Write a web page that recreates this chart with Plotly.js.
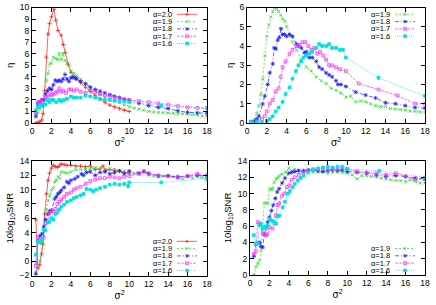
<!DOCTYPE html>
<html>
<head>
<meta charset="utf-8">
<script src="https://cdn.plot.ly/plotly-3.0.1.min.js"></script>
<style>html,body{margin:0;padding:0;background:#fff;}#chart{width:436px;height:305px;}</style>
</head>
<body>
<div id="chart"></div>
<script>
// ---------- DATA ----------
const legendLabels5 = ['α=2.0','α=1.9','α=1.8','α=1.7','α=1.6'];
const legendLabels4 = ['α=1.9','α=1.8','α=1.7','α=1.6'];
const xTicks = [0,2,4,6,8,10,12,14,16,18];

// Top-left: eta vs sigma^2
const tl_a20_x = [0.4,0.6,0.8,1.0,1.13,1.3,1.47,1.65,1.8,2.0,2.25,2.45,2.67,3.0,3.2,3.4,3.7,4.0,4.5,5.0,5.5,6.0,6.5,7.0,7.5,8.0,8.5,9.0,9.5,10.0];
const tl_a20_y = [0.0,0.05,0.1,0.25,0.8,2.8,5.7,7.7,8.6,9.2,9.85,8.9,8.0,7.6,6.8,6.1,5.1,4.4,3.9,3.5,3.1,2.75,2.4,2.05,1.8,1.55,1.4,1.25,1.1,1.0];
const tl_a19_x = [0.4,0.6,0.8,1.0,1.13,1.3,1.47,1.65,1.82,2.0,2.2,2.4,2.6,2.8,3.0,3.2,3.4,3.6,3.8,4.0,4.3,4.6,5.0,5.5,6.0,6.5,7.0,7.5,8.0,8.5,9.0,9.5,10.0,10.5,11.0,11.5,12.0,12.5,13.0,13.5,14.0,14.5,15.0,15.5,16.0,16.5,17.0,17.5,18.0];
const tl_a19_y = [0.5,0.9,1.2,1.4,1.6,2.5,3.7,4.3,5.1,5.2,5.7,5.6,5.5,6.0,5.5,6.0,5.4,5.2,5.0,4.5,4.3,4.1,3.8,3.4,3.0,2.8,2.5,2.2,2.0,1.85,1.75,1.55,1.4,1.3,1.2,1.1,1.0,0.97,0.92,0.9,0.87,0.85,0.82,0.8,0.78,0.72,0.68,0.62,0.58];
const tl_a18_x = [0.4,0.6,0.8,1.0,1.2,1.4,1.6,1.8,2.0,2.2,2.4,2.6,2.8,3.0,3.2,3.4,3.6,3.8,4.0,4.2,4.4,4.6,5.0,5.5,6.0,6.5,7.0,7.5,8.0,8.5,9.0,9.5,10.0,11.0,12.0,13.0,14.0,15.0,16.0,17.0,18.0];
const tl_a18_y = [0.6,1.7,1.8,2.0,2.0,2.5,2.8,3.0,2.9,3.3,3.7,3.6,3.7,3.6,3.8,4.2,3.8,3.6,3.9,4.0,3.9,3.8,3.6,3.4,3.1,2.9,2.75,2.6,2.45,2.3,2.2,2.05,1.95,1.7,1.5,1.35,1.25,1.05,0.93,0.88,0.85];
const tl_a17_x = [0.4,0.6,0.8,1.0,1.2,1.4,1.6,1.8,2.0,2.2,2.4,2.6,2.8,3.0,3.2,3.5,3.8,4.0,4.3,4.6,5.0,5.5,6.0,6.5,7.0,7.5,8.0,8.5,9.0,9.5,10.0,11.0,12.0,13.0,14.0,15.0,16.0,17.0,18.0];
const tl_a17_y = [0.8,1.8,1.8,1.8,2.0,2.3,2.2,2.5,2.4,2.5,2.6,2.7,3.0,2.7,2.8,2.6,2.9,2.9,2.8,2.9,2.7,2.6,2.8,2.7,2.5,2.4,2.3,2.2,2.1,2.05,2.0,1.9,1.8,1.7,1.6,1.45,1.35,1.3,1.3];
const tl_a16_x = [0.4,0.6,0.8,1.0,1.2,1.4,1.6,1.8,2.0,2.2,2.5,2.8,3.0,3.3,3.6,4.0,4.3,4.6,5.0,5.5,6.0,6.5,7.0,7.5,8.0,8.5,9.0,9.5,10.0,13.3,18.0];
const tl_a16_y = [1.1,1.4,1.5,1.5,1.6,1.6,2.0,1.8,2.0,2.0,1.8,2.0,1.9,2.0,2.1,2.3,2.2,2.2,2.2,2.4,2.3,2.2,2.1,2.0,2.0,1.95,1.9,1.85,1.8,1.5,1.25];

// Top-right: eta vs sigma^2
const tr_a19_x = [0.4,0.6,0.8,1.0,1.2,1.4,1.6,1.8,2.0,2.2,2.4,2.6,2.8,3.0,3.2,3.4,3.6,3.8,4.0,4.3,4.6,5.0,5.5,6.0,6.5,7.0,7.5,8.0,8.5,9.0,9.5,10.0,10.5,11.0,11.5,12.0,12.5,13.0,13.5,14.0,14.5,15.0,15.5,16.0,16.5,17.0,17.5,18.0];
const tr_a19_y = [0.1,0.1,0.2,0.5,0.9,1.5,2.3,3.5,4.5,5.1,5.5,5.8,6.0,5.9,5.8,5.6,5.4,5.3,5.0,4.6,4.2,3.8,3.3,2.9,2.7,2.4,2.2,2.05,1.8,1.7,1.55,1.35,1.4,1.1,1.15,1.1,1.0,0.9,0.85,0.85,0.75,0.72,0.7,0.68,0.62,0.6,0.58,0.55];
const tr_a18_x = [0.4,0.8,1.0,1.2,1.58,1.8,2.09,2.3,2.6,2.75,2.93,3.1,3.27,3.44,3.6,3.8,4.0,4.3,4.6,5.0,5.2,5.5,5.8,6.0,6.3,6.6,7.0,7.3,7.6,8.0,8.3,8.6,9.0,9.2,9.5,10.0,11.0,12.0,13.0,14.0,15.0,16.0,17.0,18.0];
const tr_a18_y = [0.05,0.1,0.2,0.35,0.99,1.4,2.0,2.6,3.07,3.9,3.85,4.3,4.45,4.9,4.6,4.6,4.5,4.6,4.5,4.1,4.0,3.9,3.65,3.7,3.4,3.4,3.2,2.9,2.8,2.6,2.5,2.4,2.2,2.0,2.0,1.9,1.6,1.45,1.3,1.05,1.0,0.9,0.8,0.77];
const tr_a17_x = [0.4,1.0,1.5,1.8,2.0,2.3,2.6,2.9,3.2,3.4,3.6,3.9,4.3,4.6,5.0,5.3,5.6,5.9,6.2,6.5,6.8,7.1,7.4,7.7,8.0,8.3,8.6,9.0,9.4,10.0,11.3,13.3,15.2,17.0,18.0];
const tr_a17_y = [0.05,0.1,0.2,0.35,0.6,1.0,1.2,1.65,1.8,2.4,2.9,3.2,3.6,3.8,4.0,4.05,4.2,4.2,4.0,3.8,3.9,3.6,3.7,3.5,3.3,3.0,3.0,2.9,2.8,2.7,2.05,1.74,1.43,1.0,1.0];
const tr_a16_x = [0.4,1.0,1.5,2.0,2.3,2.6,2.9,3.2,3.6,3.9,4.3,4.6,4.95,5.2,5.46,5.7,5.96,6.3,6.6,7.0,7.3,7.6,8.0,8.3,8.6,9.0,9.4,9.7,10.0,13.3,18.0];
const tr_a16_y = [0.05,0.05,0.05,0.1,0.2,0.35,0.6,0.8,1.1,1.5,1.85,2.3,2.7,3.0,3.2,3.4,3.5,3.6,3.7,3.9,4.1,4.0,4.0,4.1,3.9,3.9,3.8,3.8,3.4,2.35,1.4];

// Bottom-left: 10log10 SNR vs sigma^2
const bl_a20_x = [0.4,0.6,0.8,1.0,1.13,1.3,1.47,1.65,1.8,2.0,2.2,2.4,2.6,2.8,3.0,3.3,3.6,4.0,4.5,5.0,5.5,6.0,6.5,7.0,7.3,7.6,8.0,8.5,9.0,9.5,10.0];
const bl_a20_y = [5.8,-1.0,-0.5,1.0,2.4,6.6,9.4,11.3,12.3,13.0,13.4,13.2,13.1,13.3,13.6,13.5,13.4,13.4,13.3,13.3,13.2,13.3,12.8,12.9,13.3,12.7,12.8,12.7,12.6,12.4,12.3];
const bl_a19_x = [0.4,0.6,0.8,1.0,1.13,1.3,1.47,1.65,1.82,2.0,2.2,2.33,2.5,2.67,2.85,3.0,3.3,3.6,4.0,4.5,5.0,5.5,6.0,6.5,7.0,7.5,8.0,8.5,9.0,9.5,10.0,10.5,11.0,11.5,12.0,12.5,13.0,13.5,14.0,14.5,15.0,15.5,16.0,16.5,17.0,17.5,18.0];
const bl_a19_y = [-1.6,-1.0,0.0,2.5,3.8,5.7,7.2,8.5,9.2,9.9,10.2,11.1,11.3,11.8,11.6,12.5,12.4,12.3,12.5,12.8,12.8,12.8,12.9,13.1,13.0,12.8,12.9,12.8,12.7,12.6,12.4,12.2,12.3,12.5,12.0,11.9,11.8,11.9,12.0,11.8,11.6,11.5,11.8,11.6,11.8,11.7,11.2];
const bl_a18_x = [0.4,0.6,0.8,1.0,1.2,1.4,1.65,1.8,2.0,2.33,2.5,2.67,2.85,3.0,3.3,3.6,3.8,4.0,4.4,4.7,5.1,5.3,5.6,6.0,6.5,7.0,7.5,8.0,8.5,9.0,9.5,10.0,11.0,11.5,12.0,13.0,14.0,15.0,16.0,17.0,18.0];
const bl_a18_y = [-1.8,2.8,3.5,3.8,4.8,5.8,6.6,7.0,7.1,8.7,9.0,9.4,9.6,9.9,10.3,11.1,10.9,11.3,11.5,11.8,12.2,12.0,12.4,12.5,12.0,12.4,12.5,12.2,12.4,12.6,12.2,12.6,12.3,12.5,12.3,11.9,11.9,11.8,11.9,12.0,12.0];
const bl_a17_x = [0.4,0.6,0.8,1.0,1.2,1.4,1.6,1.8,2.0,2.2,2.4,2.6,2.8,3.0,3.3,3.6,4.0,4.3,4.6,5.0,5.5,6.0,6.5,7.0,7.5,8.0,8.5,9.0,9.5,10.0,11.0,11.5,12.0,13.0,14.0,15.0,16.0,17.0,18.0];
const bl_a17_y = [-0.6,3.3,2.8,3.0,3.3,5.3,5.5,6.7,7.0,7.0,7.3,8.0,8.3,8.6,9.0,9.4,9.6,10.0,10.2,10.4,10.8,11.2,11.4,11.6,11.6,11.8,11.7,11.6,11.8,11.9,12.2,12.6,12.2,12.0,11.9,11.7,11.9,12.2,11.9];
const bl_a16_x = [0.4,0.6,0.8,1.0,1.2,1.4,1.6,1.8,2.0,2.2,2.4,2.6,2.8,3.0,3.3,3.6,4.0,4.3,4.6,5.0,5.3,5.6,6.0,6.3,6.6,7.0,7.5,8.0,8.5,9.0,9.5,9.9,10.0,13.3,18.0];
const bl_a16_y = [0.9,2.7,2.6,3.0,4.4,4.3,5.4,5.5,6.0,5.8,6.6,6.8,7.2,7.6,7.9,8.3,8.5,8.8,9.0,9.2,9.4,10.1,10.0,9.8,10.0,10.2,10.4,10.7,10.8,10.7,10.8,10.5,11.0,11.0,11.6];

// Bottom-right: 10log10 SNR vs sigma^2
const br_a19_x = [0.4,0.6,0.8,1.0,1.13,1.3,1.47,1.65,1.82,2.0,2.2,2.33,2.5,2.67,2.85,3.0,3.3,3.7,4.0,4.3,4.6,5.0,5.5,6.0,6.5,7.0,7.5,8.0,8.5,9.0,9.5,10.0,10.5,11.0,11.5,12.0,12.5,13.0,13.5,14.0,14.5,15.0,15.5,16.0,16.5,17.0,17.5,18.0];
const br_a19_y = [0.0,1.0,1.4,1.8,3.0,5.5,8.8,8.9,8.8,10.6,10.5,10.6,11.4,11.8,11.9,12.2,12.4,12.65,13.1,12.8,13.0,12.9,12.7,12.8,12.6,12.6,12.7,12.5,12.6,12.7,12.6,12.5,12.3,11.8,12.2,12.2,12.1,12.0,11.9,11.8,11.7,11.6,11.6,11.5,11.7,11.5,11.3,11.3];
const br_a18_x = [0.4,0.6,0.8,1.0,1.13,1.3,1.47,1.65,1.82,2.0,2.2,2.4,2.6,2.8,3.0,3.3,3.6,4.0,4.3,4.6,5.0,5.5,6.0,6.5,7.0,7.5,8.0,8.5,9.0,9.5,10.0,11.0,12.0,13.0,14.0,15.0,16.0,17.0,18.0];
const br_a18_y = [2.3,3.8,3.9,4.0,3.5,3.4,5.0,5.9,6.5,7.1,7.9,8.6,9.4,10.2,10.6,11.3,11.9,12.5,12.6,12.7,12.8,12.8,12.9,12.9,12.8,12.7,12.8,12.9,12.8,12.9,12.7,12.6,12.5,12.3,12.1,12.2,12.1,11.9,11.8];
const br_a17_x = [0.4,0.6,0.8,1.0,1.3,1.5,1.65,1.8,2.0,2.33,2.5,2.67,2.85,3.0,3.3,3.53,3.8,4.04,4.3,4.6,5.0,5.5,6.0,6.5,7.0,7.5,8.0,8.5,9.0,9.5,10.0,11.0,12.0,13.0,14.0,15.0,16.0,17.0,18.0];
const br_a17_y = [2.6,2.9,6.5,6.3,5.1,5.0,4.9,5.0,5.9,5.7,6.4,7.3,8.6,8.8,9.7,10.0,10.8,11.0,11.7,12.0,12.3,12.6,12.8,13.0,13.0,13.1,12.9,13.0,12.9,13.1,13.0,12.7,12.6,12.5,12.3,12.5,12.1,11.7,11.8];
const br_a16_x = [0.4,0.6,0.8,1.0,1.13,1.3,1.47,1.65,1.8,2.0,2.16,2.4,2.67,2.85,3.0,3.36,3.6,3.88,4.1,4.39,4.6,4.9,5.2,5.5,6.0,6.5,7.0,7.5,8.0,8.5,9.0,9.5,10.0,13.3,18.0];
const br_a16_y = [4.9,3.8,3.9,6.1,6.3,5.8,5.9,5.7,6.1,6.9,6.7,6.6,6.3,7.2,7.3,8.3,9.0,10.0,10.3,10.8,11.2,11.6,11.9,12.2,12.6,12.9,13.1,13.2,13.3,13.2,13.3,13.3,13.0,12.8,12.0];

// ---------- STYLE ----------
const W = 436, H = 305;
const FONT = '"Liberation Sans", Arial, Helvetica, sans-serif';
const ST = {
  '2.0': {color:'#ff1a1a', symbol:'cross-thin-open', dash:'solid', size:3, shape:'plus'},
  '1.9': {color:'#1ee01e', symbol:'x-thin-open', dash:'2px,2px', size:3, shape:'x'},
  '1.8': {color:'#2020ff', symbol:'asterisk-open', dash:'4px,2px,1px,2px', size:3.5, shape:'star'},
  '1.7': {color:'#ff33ff', symbol:'square-open', dash:'3px,1px', size:2.8, shape:'osq'},
  '1.6': {color:'#00e0e0', symbol:'square', dash:'1px,1px', size:2.8, shape:'fsq'}
};
function px(x){ return x / W; }
function py(y){ return 1 - y / H; }

const panels = [
  {xa:'x',  ya:'y',  box:{l:32, r:207, t:7.5, b:123}, yr:[0,10], dy:1, ytitle:'η',
   series:[['2.0',tl_a20_x,tl_a20_y],['1.9',tl_a19_x,tl_a19_y],['1.8',tl_a18_x,tl_a18_y],['1.7',tl_a17_x,tl_a17_y],['1.6',tl_a16_x,tl_a16_y]],
   labels:legendLabels5, legTop:14.3},
  {xa:'x2', ya:'y2', box:{l:247, r:425, t:7.5, b:123}, yr:[0,6], dy:1, ytitle:'η',
   series:[['1.9',tr_a19_x,tr_a19_y],['1.8',tr_a18_x,tr_a18_y],['1.7',tr_a17_x,tr_a17_y],['1.6',tr_a16_x,tr_a16_y]],
   labels:legendLabels4, legTop:14.3},
  {xa:'x3', ya:'y3', box:{l:32, r:207, t:161, b:275.5}, yr:[-2,14], dy:2, ytitle:'10log<sub>10</sub>SNR',
   series:[['2.0',bl_a20_x,bl_a20_y],['1.9',bl_a19_x,bl_a19_y],['1.8',bl_a18_x,bl_a18_y],['1.7',bl_a17_x,bl_a17_y],['1.6',bl_a16_x,bl_a16_y]],
   labels:legendLabels5, legTop:241.3},
  {xa:'x4', ya:'y4', box:{l:250, r:425, t:161, b:275}, yr:[0,14], dy:2, ytitle:'10log<sub>10</sub>SNR',
   series:[['1.9',br_a19_x,br_a19_y],['1.8',br_a18_x,br_a18_y],['1.7',br_a17_x,br_a17_y],['1.6',br_a16_x,br_a16_y]],
   labels:legendLabels4, legTop:248.5}
];

const traces = [];
const shapes = [];
const annotations = [];
const layout = {
  width: W, height: H,
  margin: {l:0, r:0, t:0, b:0},
  paper_bgcolor: '#fff', plot_bgcolor: '#fff',
  showlegend: false,
  font: {family: FONT, size: 9, color: '#000'}
};

function markerShapes(kind, cx, cy, color){
  const s = 1.5, out = [];
  const L = (x0,y0,x1,y1) => out.push({type:'line', xref:'paper', yref:'paper',
      x0:px(x0), y0:py(y0), x1:px(x1), y1:py(y1), line:{color:color, width:0.8}});
  if (kind === 'plus' || kind === 'star') { L(cx-s,cy,cx+s,cy); L(cx,cy-s,cx,cy+s); }
  if (kind === 'x' || kind === 'star') { L(cx-s,cy-s,cx+s,cy+s); L(cx-s,cy+s,cx+s,cy-s); }
  if (kind === 'osq' || kind === 'fsq') {
    out.push({type:'rect', xref:'paper', yref:'paper', x0:px(cx-1.4), x1:px(cx+1.4), y0:py(cy+1.4), y1:py(cy-1.4),
      line:{color:color, width:0.8}, fillcolor: kind === 'fsq' ? color : 'rgba(0,0,0,0)'});
  }
  return out;
}

panels.forEach((p, i) => {
  const n = i === 0 ? '' : String(i + 1);
  const b = p.box;
  layout['xaxis' + n] = {
    domain: [px(b.l), px(b.r)], anchor: 'y' + n, range: [0, 18],
    tickvals: xTicks, ticktext: xTicks.map(String),
    ticks: 'inside', ticklen: 4, tickwidth: 1, tickcolor: '#000',
    showline: true, linecolor: '#000', linewidth: 1, mirror: 'ticks',
    showgrid: false, zeroline: false, automargin: false,
    tickfont: {family: FONT, size: 8.5, color: '#000'},
    title: {text: 'σ<sup>2</sup>', font: {family: FONT, size: 10, color: '#000'}, standoff: 3}
  };
  layout['yaxis' + n] = {
    domain: [py(b.b), py(b.t)], anchor: 'x' + n, range: p.yr,
    dtick: p.dy, tick0: p.yr[0],
    ticks: 'inside', ticklen: 4, tickwidth: 1, tickcolor: '#000',
    showline: true, linecolor: '#000', linewidth: 1, mirror: 'ticks',
    showgrid: false, zeroline: false, automargin: false,
    tickfont: {family: FONT, size: 8.5, color: '#000'},
    title: {text: p.ytitle, font: {family: FONT, size: 9.5, color: '#000'}, standoff: 4}
  };
  p.series.forEach((s, k) => {
    const st = ST[s[0]];
    traces.push({
      type: 'scatter', mode: 'lines+markers', x: s[1], y: s[2],
      xaxis: p.xa, yaxis: p.ya, name: p.labels[k], cliponaxis: true,
      line: {color: st.color, width: 0.7, dash: st.dash},
      marker: {symbol: st.symbol, size: st.size, color: st.color, line: {color: st.color, width: 0.8}}
    });
    // legend entry (gnuplot style: text left, sample right)
    const yy = p.legTop + k * 7.3;
    annotations.push({xref:'paper', yref:'paper', x: px(b.r - 34), y: py(yy), xanchor:'right', yanchor:'middle',
      text: p.labels[k], showarrow: false, borderpad: 0, font: {family: FONT, size: 7.5, color: '#000'}});
    shapes.push({type:'line', xref:'paper', yref:'paper', x0: px(b.r - 30), x1: px(b.r - 10), y0: py(yy), y1: py(yy),
      line: {color: st.color, width: 0.7, dash: st.dash}});
    markerShapes(st.shape, b.r - 20, yy, st.color).forEach(sh => shapes.push(sh));
  });
});

layout.shapes = shapes;
layout.annotations = annotations;

Plotly.newPlot('chart', traces, layout, {staticPlot: true, displayModeBar: false});
</script>
</body>
</html>
